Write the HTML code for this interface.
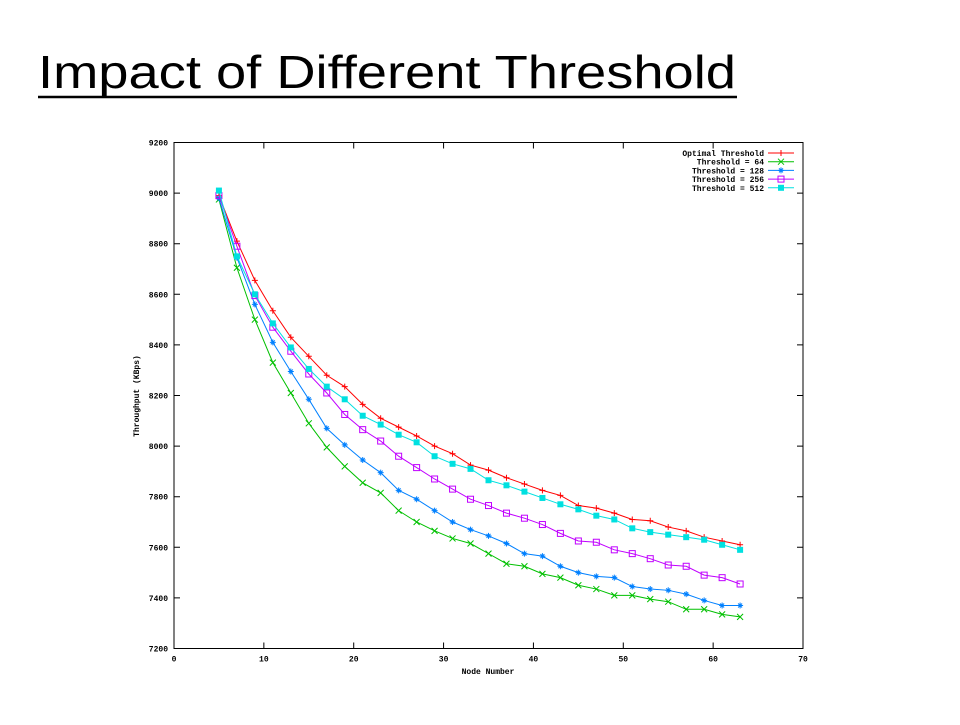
<!DOCTYPE html>
<html><head><meta charset="utf-8"><style>
body{margin:0;background:#fff;width:960px;height:720px;overflow:hidden}
svg text{font-family:"Liberation Mono","DejaVu Sans Mono",monospace;font-weight:bold}
</style></head><body>
<svg id="chart" width="960" height="720">
<text x="38" y="88" textLength="698" lengthAdjust="spacingAndGlyphs" style="font-family:'Liberation Sans',sans-serif;font-weight:normal;font-size:46px">Impact of Different Threshold</text>
<line x1="38" y1="97" x2="737" y2="97" stroke="#000" stroke-width="2.5"/>
<g id="plot"></g>
</svg>
<script>
const xs=[5,7,9,11,13,15,17,19,21,23,25,27,29,31,33,35,37,39,41,43,45,47,49,51,53,55,57,59,61,63];
const optimal=[8990,8810,8655,8535,8430,8355,8280,8235,8165,8110,8075,8040,8000,7970,7925,7905,7875,7850,7825,7805,7765,7755,7735,7710,7705,7680,7665,7640,7625,7610];
const t64=[8975,8705,8500,8330,8210,8090,7995,7920,7855,7815,7745,7700,7665,7635,7615,7575,7535,7525,7495,7480,7450,7435,7410,7410,7395,7385,7355,7355,7335,7325];
const t128=[8980,8745,8560,8410,8295,8185,8070,8005,7945,7895,7825,7790,7745,7700,7670,7645,7615,7575,7565,7525,7500,7485,7480,7445,7435,7430,7415,7390,7370,7370];
const t256=[8990,8790,8595,8470,8375,8285,8210,8125,8065,8020,7960,7915,7870,7830,7790,7765,7735,7715,7690,7655,7625,7620,7590,7575,7555,7530,7525,7490,7480,7455];
const t512=[9010,8750,8600,8485,8390,8305,8235,8185,8120,8085,8045,8015,7960,7930,7910,7865,7845,7820,7795,7770,7750,7725,7710,7675,7660,7650,7640,7630,7610,7590];
const xTicks=[0,10,20,30,40,50,60,70];
const yTicks=[7200,7400,7600,7800,8000,8200,8400,8600,8800,9000,9200];
const seriesNames=["Optimal Threshold","Threshold = 64","Threshold = 128","Threshold = 256","Threshold = 512"];
const L=174,R=803,T=142.5,B=648.5;
const X=v=>L+(v-0)/(70-0)*(R-L);
const Y=v=>B-(v-7200)/(9200-7200)*(B-T);
const NS="http://www.w3.org/2000/svg";
const g=document.getElementById('plot');
function mk(tag,attrs,parent){const e=document.createElementNS(NS,tag);for(const k in attrs)e.setAttribute(k,attrs[k]);(parent||g).appendChild(e);return e;}
let frame=mk('rect',{x:L,y:T,width:R-L,height:B-T,fill:'none',stroke:'#000','stroke-width':1});


xTicks.forEach(t=>{
  let l=mk('path',{d:`M${X(t)},${B}v-6M${X(t)},${T}v6`,stroke:'#000'});
  
  
  let tx=mk('text',{x:X(t),y:B+13,'font-size':8,'text-anchor':'middle'});tx.textContent=t;
  
  
});
yTicks.forEach(t=>{
  let l=mk('path',{d:`M${L},${Y(t)}h6M${R},${Y(t)}h-6`,stroke:'#000'});
  
  
  let tx=mk('text',{x:L-6,y:Y(t)+3,'font-size':8,'text-anchor':'end'});tx.textContent=t;
  
  
});
let xt=mk('text',{x:488,y:674,'font-size':8,'text-anchor':'middle'});xt.textContent='Node Number';


let yt=mk('text',{x:0,y:0,'font-size':8,'text-anchor':'middle',transform:'translate(139,396) rotate(-90)'});yt.textContent='Throughput (KBps)';


const colors=['#ff0000','#00c000','#0080ff','#c000ff','#00e0e0'];
const data=[optimal,t64,t128,t256,t512];
function marker(i,x,y,parent){
  const c=colors[i];
  if(i===0) return mk('path',{d:`M${x-3},${y}h6M${x},${y-3}v6`,stroke:c},parent);
  if(i===1) return mk('path',{d:`M${x-3},${y-3}l6,6M${x-3},${y+3}l6,-6`,stroke:c},parent);
  if(i===2) return mk('path',{d:`M${x-3},${y}h6M${x},${y-3}v6M${x-2},${y-2}l4,4M${x-2},${y+2}l4,-4`,stroke:c},parent);
  if(i===3) return mk('rect',{x:x-3,y:y-3,width:6,height:6,fill:'none',stroke:c},parent);
  return mk('rect',{x:x-3,y:y-3,width:6,height:6,fill:c},parent);
}
data.forEach((arr,i)=>{
  const sg=mk('g',{});
  
  
  let line=mk('polyline',{points:arr.map((v,j)=>X(xs[j])+','+Y(v)).join(' '),fill:'none',stroke:colors[i],'stroke-width':1},sg);
  
  
  arr.forEach((v,j)=>{let m=marker(i,X(xs[j]),Y(v),sg);
    
    });
});
seriesNames.forEach((n,i)=>{
  const y=153+i*8.7;
  const lg=mk('g',{});
  
  
  let tx=mk('text',{x:764,y:y+3,'font-size':8,'text-anchor':'end'},lg);tx.textContent=n;
  mk('line',{x1:768,y1:y,x2:794,y2:y,stroke:colors[i]},lg);
  marker(i,781,y,lg);
});
</script>
</body></html>
